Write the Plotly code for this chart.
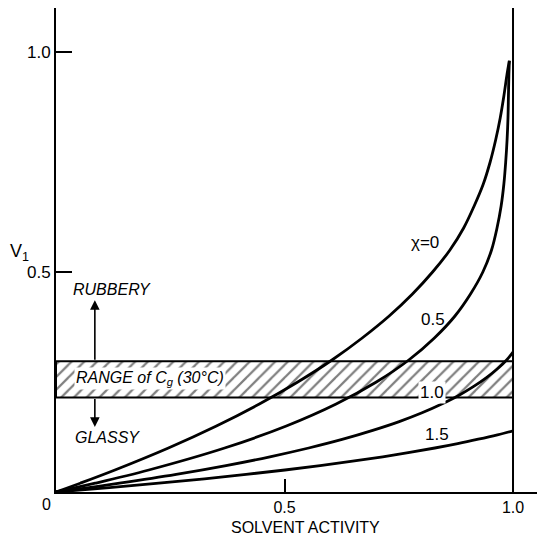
import plotly.graph_objects as go

# ---- data ----
# chi = 0 curve (solvent activity, v1)
chi0_a  = [0.0, 0.053, 0.129, 0.246, 0.351, 0.445, 0.529, 0.604, 0.670, 0.729, 0.780, 0.824, 0.862, 0.892, 0.915, 0.935, 0.950, 0.962, 0.972, 0.980, 0.987, 0.992]
chi0_v  = [0.0, 0.02, 0.05, 0.10, 0.15, 0.20, 0.25, 0.30, 0.35, 0.40, 0.45, 0.50, 0.55, 0.60, 0.65, 0.70, 0.75, 0.80, 0.85, 0.90, 0.95, 0.98]
# chi = 0.5
chi05_a = [0.0, 0.086, 0.203, 0.369, 0.504, 0.613, 0.701, 0.772, 0.828, 0.873, 0.907, 0.934, 0.953, 0.965, 0.974, 0.980, 0.984, 0.987, 0.989, 0.990, 0.991, 0.992]
chi05_v = [0.0, 0.02, 0.05, 0.10, 0.15, 0.20, 0.25, 0.30, 0.35, 0.40, 0.45, 0.50, 0.55, 0.60, 0.65, 0.70, 0.75, 0.80, 0.85, 0.90, 0.95, 0.98]
# chi = 1.0
chi10_a = [0.0, 0.072, 0.139, 0.263, 0.372, 0.468, 0.553, 0.628, 0.693, 0.751, 0.801, 0.844, 0.882, 0.914, 0.942, 0.966, 0.986, 1.0]
chi10_v = [0.0, 0.01, 0.02, 0.04, 0.06, 0.08, 0.10, 0.12, 0.14, 0.16, 0.18, 0.20, 0.22, 0.24, 0.26, 0.28, 0.30, 0.318]
# chi = 1.5
chi15_a = [0.0, 0.117, 0.225, 0.325, 0.416, 0.501, 0.578, 0.649, 0.715, 0.774, 0.829, 0.879, 0.924, 0.966, 1.0]
chi15_v = [0.0, 0.01, 0.02, 0.03, 0.04, 0.05, 0.06, 0.07, 0.08, 0.09, 0.10, 0.11, 0.12, 0.13, 0.139]

band_low, band_high = 0.215, 0.297
x_ticks = [0.5, 1.0]
x_tick_text = ["0.5", "1.0"]
y_ticks = [0.5, 1.0]
y_tick_text = ["0.5", "1.0"]

FONT = "Liberation Sans"
fig = go.Figure()

# hatched band
fig.add_trace(go.Scatter(
    x=[0, 1.0, 1.0, 0, 0], y=[band_low, band_low, band_high, band_high, band_low],
    mode="lines", fill="toself",
    line=dict(color="black", width=2),
    fillcolor="white",
    fillpattern=dict(shape="/", fgcolor="black", bgcolor="white", size=9, solidity=0.25),
    hoverinfo="skip", showlegend=False))

for xa, yv in [(chi0_a, chi0_v), (chi05_a, chi05_v), (chi10_a, chi10_v), (chi15_a, chi15_v)]:
    fig.add_trace(go.Scatter(x=xa, y=yv, mode="lines", line=dict(color="black", width=2.8, shape="spline"),
                             showlegend=False, hoverinfo="skip"))

# vertical line at activity = 1
fig.add_shape(type="line", xref="x", yref="paper", x0=1.0, x1=1.0, y0=0, y1=1,
              line=dict(color="black", width=2))

ann = []
def txt(x, y, t, size=15, italic=False, bg=None, xanchor="center", **kw):
    d = dict(x=x, y=y, xref="x", yref="y", text=(f"<i>{t}</i>" if italic else t), showarrow=False,
             font=dict(family=FONT, size=size, color="black"), xanchor=xanchor, yanchor="middle")
    if bg:
        d["bgcolor"] = bg
        d["borderpad"] = 1
    d.update(kw)
    ann.append(d)

txt(0.123, 0.461, "RUBBERY", size=16, italic=True)
txt(0.112, 0.125, "GLASSY", size=16, italic=True)
txt(0.040, 0.257, "RANGE of C<sub>g</sub> (30°C)", size=16, italic=True, bg="white", xanchor="left")
txt(0.807, 0.566, "χ=0", size=17)
txt(0.825, 0.392, "0.5", size=17)
txt(0.823, 0.226, "1.0", size=17, bg="white")
txt(0.834, 0.130, "1.5", size=17)
# origin label, axis titles
ann.append(dict(x=0, y=0, xref="x", yref="y", text="0", showarrow=False, xanchor="center", yanchor="top",
                xshift=-10, yshift=-2, font=dict(family=FONT, size=16, color="black")))
ann.append(dict(x=0, y=0.545, xref="x", yref="y", text="V<sub>1</sub>", showarrow=False, xanchor="center",
                yanchor="middle", xshift=-37, font=dict(family=FONT, size=18, color="black")))
ann.append(dict(x=0.547, y=0, xref="x", yref="paper", text="SOLVENT ACTIVITY", showarrow=False,
                xanchor="center", yanchor="middle", yshift=-35, font=dict(family=FONT, size=16, color="black")))
# arrows
for head, tail in [((0.085, 0.436), (0.085, band_high)), ((0.085, 0.148), (0.085, band_low))]:
    ann.append(dict(x=head[0], y=head[1], ax=tail[0], ay=tail[1], xref="x", yref="y", axref="x", ayref="y",
                    showarrow=True, arrowhead=2, arrowsize=1.2, arrowwidth=1.6, arrowcolor="black", text=""))

# the page body has an 8px margin, so the figure is sized to fill the rest of the window
fig.update_layout(
    width=537, height=529,
    margin=dict(l=48, r=0, t=0, b=45),
    paper_bgcolor="white", plot_bgcolor="white",
    annotations=ann,
    xaxis=dict(range=[0, 1.07], showgrid=False, zeroline=False, showline=True, linecolor="black", linewidth=2,
               ticks="inside", ticklen=13, tickwidth=1.5, tickcolor="black",
               tickvals=x_ticks, ticktext=x_tick_text, ticklabelstandoff=0,
               tickfont=dict(family=FONT, size=16, color="black")),
    yaxis=dict(range=[0, 1.1], showgrid=False, zeroline=False, showline=True, linecolor="black", linewidth=2,
               ticks="inside", ticklen=16, tickwidth=1.5, tickcolor="black",
               tickvals=y_ticks, ticktext=y_tick_text,
               tickfont=dict(family=FONT, size=17, color="black")),
)

fig.write_html("out.html")
